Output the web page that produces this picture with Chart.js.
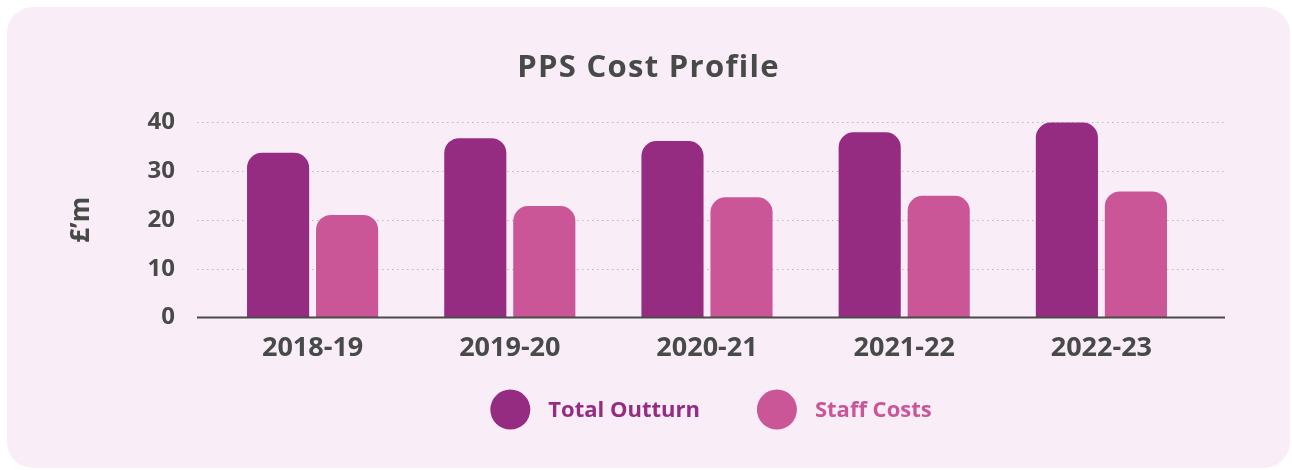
<!DOCTYPE html>
<html>
<head>
<meta charset="utf-8">
<script src="https://cdn.jsdelivr.net/npm/chart.js@4"></script>
<style>
  html, body { margin: 0; padding: 0; background: #fff; }
  #card {
    position: absolute; left: 7px; top: 7px;
    width: 1283px; height: 461px;
    background: #f9eef7; border-radius: 26px; overflow: hidden;
  }
</style>
</head>
<body>
<div id="card"><canvas id="c" width="1283" height="461"></canvas></div>
<script>
// PPS cost profile, £m per financial year
const years        = ['2018-19', '2019-20', '2020-21', '2021-22', '2022-23'];
const totalOutturn = [33.7, 36.7, 36.1, 37.9, 39.9];
const staffCosts   = [21.0, 22.8, 24.6, 24.9, 25.8];
const yTicks       = [0, 10, 20, 30, 40];
const chartTitle   = 'PPS Cost Profile';

const INK = '#474a48';
const FONT = "'Open Sans', sans-serif";

// title centred on the whole card, not just the plot
const cardTitle = {
  id: 'cardTitle',
  afterDraw(chart) {
    const { ctx, width } = chart;
    ctx.save();
    ctx.font = `bold 31px ${FONT}`;
    ctx.letterSpacing = '1.3px';
    ctx.fillStyle = INK;
    ctx.textAlign = 'center';
    ctx.textBaseline = 'middle';
    ctx.fillText(chartTitle, width / 2, 61);
    ctx.restore();
  }
};

// dotted grid + solid baseline, a bit wider than the plot area like the original
const gridPlugin = {
  id: 'grid',
  beforeDatasetsDraw(chart) {
    const { ctx, chartArea: a, scales: { y } } = chart;
    ctx.save();
    ctx.strokeStyle = '#bdb6bb';
    ctx.lineWidth = 1;
    ctx.setLineDash([1.5, 3.5]);
    y.ticks.forEach(t => {
      if (t.value === 0) return;
      const py = Math.round(y.getPixelForValue(t.value)) + 0.5;
      ctx.beginPath();
      ctx.moveTo(a.left - 17, py);
      ctx.lineTo(a.right + 25, py);
      ctx.stroke();
    });
    ctx.restore();
  },
  afterDatasetsDraw(chart) {
    const { ctx, chartArea: a, scales: { y } } = chart;
    const py = y.getPixelForValue(0);
    ctx.save();
    ctx.strokeStyle = '#4a4a4a';
    ctx.lineWidth = 2;
    ctx.beginPath();
    ctx.moveTo(a.left - 17, py);
    ctx.lineTo(a.right + 25, py);
    ctx.stroke();
    ctx.restore();
  }
};

// big round legend dots with coloured labels, centred under the plot
const dotLegend = {
  id: 'dotLegend',
  afterDraw(chart) {
    const { ctx, chartArea: a } = chart;
    const r = 20, gapText = 18, gapItem = 57;
    ctx.save();
    ctx.font = `bold 22px ${FONT}`;
    const items = chart.data.datasets.map(ds => ({
      label: ds.label, color: ds.backgroundColor,
      w: 2 * r + gapText + ctx.measureText(ds.label).width
    }));
    const total = items.reduce((s, it) => s + it.w, 0) + gapItem * (items.length - 1);
    let x = (a.left + a.right) / 2 - total / 2 + 4;
    const cy = a.bottom + 92;
    ctx.textBaseline = 'middle';
    items.forEach(it => {
      ctx.fillStyle = it.color;
      ctx.beginPath();
      ctx.arc(x + r, cy, r, 0, Math.PI * 2);
      ctx.fill();
      ctx.fillText(it.label, x + 2 * r + gapText, cy + 1);
      x += it.w + gapItem;
    });
    ctx.restore();
  }
};

new Chart(document.getElementById('c'), {
  type: 'bar',
  data: {
    labels: years,
    datasets: [
      { label: 'Total Outturn', data: totalOutturn, backgroundColor: '#962b82' },
      { label: 'Staff Costs',   data: staffCosts,   backgroundColor: '#ca5597' },
    ],
  },
  options: {
    responsive: false,
    animation: false,
    layout: { padding: { left: 0, right: 90, top: 115, bottom: 88 } },
    datasets: {
      bar: {
        categoryPercentage: 0.70,
        barPercentage: 0.90,
        borderRadius: { topLeft: 15, topRight: 15, bottomLeft: 0, bottomRight: 0 },
        borderSkipped: 'bottom',
      }
    },
    plugins: {
      legend: { display: false },
      tooltip: { enabled: false },
      title: { display: false },
    },
    scales: {
      x: {
        grid: { display: false, drawTicks: false },
        border: { display: false },
        ticks: {
          color: INK, padding: 15,
          font: { family: FONT, size: 27, weight: 'bold' },
        },
      },
      y: {
        min: 0, max: 40,
        afterBuildTicks: s => { s.ticks = yTicks.map(v => ({ value: v })); },
        afterFit: s => { s.width = 207; },
        grid: { display: false, drawTicks: false },
        border: { display: false },
        ticks: {
          color: INK, padding: 39,
          font: { family: FONT, size: 24, weight: 'bold' },
        },
        title: {
          display: true,
          text: '£’m',
          color: INK,
          font: { family: FONT, size: 26, weight: 'bold' },
          padding: { top: 59, bottom: 0 },
        },
      },
    },
  },
  plugins: [gridPlugin, dotLegend, cardTitle],
});
</script>
</body>
</html>
